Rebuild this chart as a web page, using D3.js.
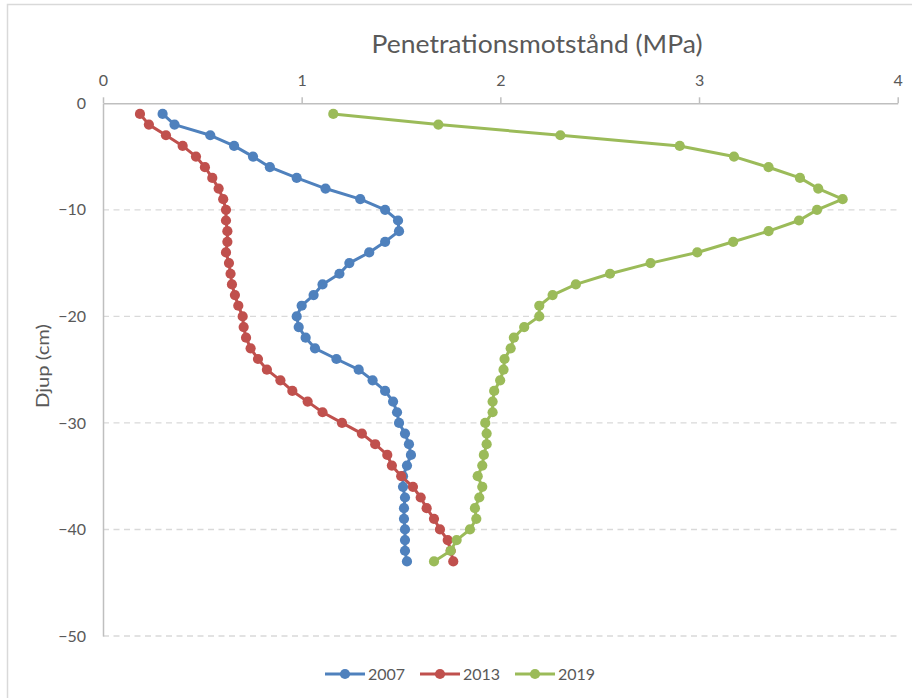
<!DOCTYPE html>
<html>
<head>
<meta charset="utf-8">
<script src="https://cdn.jsdelivr.net/npm/d3@7"></script>
<style>
  html, body { margin: 0; padding: 0; background: #ffffff; }
  svg { display: block; font-family: Lato, "Open Sans", sans-serif; }
</style>
</head>
<body>
<svg id="chart" width="912" height="698"></svg>
<script>
// Depth below surface (cm)
const depths = [-1, -2, -3, -4, -5, -6, -7, -8, -9, -10,
  -11, -12, -13, -14, -15, -16, -17, -18, -19, -20,
  -21, -22, -23, -24, -25, -26, -27, -28, -29, -30,
  -31, -32, -33, -34, -35, -36, -37, -38, -39, -40,
  -41, -42, -43];

// Penetration resistance (MPa) per year
const values2007 = [0.30, 0.36, 0.54, 0.66, 0.755, 0.84, 0.975, 1.12, 1.295, 1.42,
  1.485, 1.49, 1.42, 1.34, 1.24, 1.19, 1.105, 1.06, 1.0, 0.975,
  0.985, 1.02, 1.067, 1.175, 1.287, 1.357, 1.42, 1.46, 1.48, 1.49,
  1.52, 1.54, 1.55, 1.53, 1.51, 1.51, 1.52, 1.515, 1.515, 1.52,
  1.52, 1.52, 1.53];
const values2013 = [0.186, 0.231, 0.317, 0.401, 0.468, 0.513, 0.55, 0.582, 0.605, 0.619,
  0.619, 0.626, 0.626, 0.619, 0.634, 0.642, 0.649, 0.664, 0.681, 0.703,
  0.708, 0.72, 0.743, 0.78, 0.825, 0.893, 0.953, 1.03, 1.105, 1.203,
  1.303, 1.37, 1.431, 1.454, 1.501, 1.56, 1.599, 1.629, 1.666, 1.696,
  1.735, 1.75, 1.763];
const values2019 = [1.159, 1.688, 2.302, 2.903, 3.176, 3.35, 3.508, 3.6, 3.723, 3.594,
  3.503, 3.35, 3.172, 2.991, 2.756, 2.552, 2.38, 2.263, 2.196, 2.196,
  2.12, 2.068, 2.052, 2.021, 2.016, 1.999, 1.969, 1.961, 1.961, 1.924,
  1.931, 1.931, 1.917, 1.909, 1.886, 1.909, 1.894, 1.872, 1.879, 1.847,
  1.78, 1.75, 1.666];

const seriesNames = ["2007", "2013", "2019"];
const seriesColors = ["#4f81bd", "#c0504d", "#9bbb59"];
const xTicks = [0, 1, 2, 3, 4];
const yTicks = [0, -10, -20, -30, -40, -50];
const titleText = "Penetrationsmotstånd (MPa)";
const yTitleText = "Djup (cm)";

const series = [values2007, values2013, values2019].map((vals, i) => ({
  name: seriesNames[i],
  color: seriesColors[i],
  points: vals.map((v, j) => ({ x: v, y: depths[j] }))
}));

const svg = d3.select("#chart");
const textColor = "#595959";
const axisColor = "#bfbfbf";
const gridColor = "#d9d9d9";

// Chart area border
svg.append("rect")
  .attr("x", 7.5).attr("y", 4.5)
  .attr("width", 1000).attr("height", 1000)
  .attr("fill", "none").attr("stroke", gridColor).attr("stroke-width", 1.5);

const x = d3.scaleLinear().domain([0, 4]).range([103, 897.7]);
const y = d3.scaleLinear().domain([-50, 0]).range([636, 103.3]);

// Horizontal dashed gridlines
svg.append("g").selectAll("line")
  .data(yTicks.filter(t => t !== 0))
  .join("line")
  .attr("x1", x(0)).attr("x2", x(4))
  .attr("y1", d => y(d)).attr("y2", d => y(d))
  .attr("stroke", gridColor).attr("stroke-width", 1.4)
  .attr("stroke-dasharray", "6,4.5");

// Top value axis
const xAxis = svg.append("g")
  .attr("transform", `translate(0,${y(0)})`)
  .call(d3.axisTop(x).tickValues(xTicks).tickFormat(d3.format("d")).tickSizeInner(6).tickSizeOuter(0).tickPadding(11));
xAxis.select(".domain").attr("stroke", axisColor).attr("stroke-width", 1.5);
xAxis.selectAll(".tick line").attr("stroke", axisColor).attr("stroke-width", 1.5);
xAxis.selectAll(".tick text")
  .attr("fill", textColor).attr("font-size", 16).attr("font-family", "Lato, sans-serif");

// Left depth axis
const yAxis = svg.append("g")
  .attr("transform", `translate(${x(0)},0)`)
  .call(d3.axisLeft(y).tickValues(yTicks).tickFormat(d3.format("d")).tickSize(0).tickPadding(17));
yAxis.select(".domain").attr("stroke", axisColor).attr("stroke-width", 1.5);
yAxis.selectAll(".tick text")
  .attr("fill", textColor).attr("font-size", 16).attr("font-family", "Lato, sans-serif");

// Chart title
svg.append("text")
  .attr("x", 537).attr("y", 53)
  .attr("text-anchor", "middle")
  .attr("fill", textColor)
  .attr("font-size", 25)
  .attr("textLength", 331)
  .attr("lengthAdjust", "spacingAndGlyphs")
  .text(titleText);

// Depth axis title
svg.append("text")
  .attr("transform", `translate(49,366) rotate(-90)`)
  .attr("text-anchor", "middle")
  .attr("fill", textColor)
  .attr("font-size", 18)
  .attr("textLength", 84)
  .attr("lengthAdjust", "spacingAndGlyphs")
  .text(yTitleText);

// Series lines and markers
const line = d3.line().x(d => x(d.x)).y(d => y(d.y));
const gSeries = svg.append("g");
series.forEach(s => {
  const g = gSeries.append("g");
  g.append("path")
    .datum(s.points)
    .attr("d", line)
    .attr("fill", "none")
    .attr("stroke", s.color)
    .attr("stroke-width", 3)
    .attr("stroke-linejoin", "round");
  g.selectAll("circle")
    .data(s.points)
    .join("circle")
    .attr("cx", d => x(d.x))
    .attr("cy", d => y(d.y))
    .attr("r", 5.1)
    .attr("fill", s.color);
});

// Legend
const legendX = [325, 420, 515];
const legend = svg.append("g");
series.forEach((s, i) => {
  const g = legend.append("g").attr("transform", `translate(${legendX[i]},674)`);
  g.append("line")
    .attr("x1", 0).attr("x2", 40).attr("y1", 0).attr("y2", 0)
    .attr("stroke", s.color).attr("stroke-width", 3);
  g.append("circle").attr("cx", 20).attr("cy", 0).attr("r", 5.1).attr("fill", s.color);
  g.append("text")
    .attr("x", 43).attr("y", 5.5)
    .attr("fill", textColor)
    .attr("font-size", 16)
    .text(s.name);
});
</script>
</body>
</html>
